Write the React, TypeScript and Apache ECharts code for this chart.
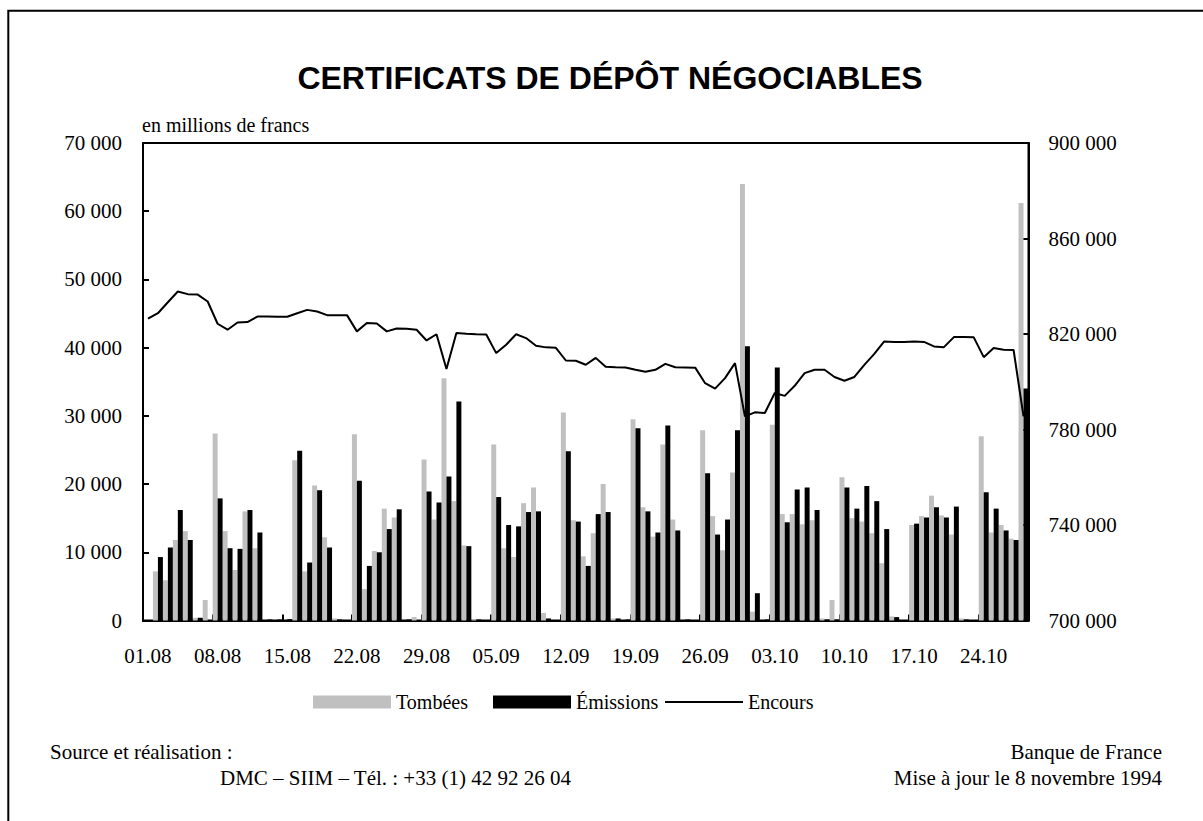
import React, { useEffect, useRef } from 'react';
import * as echarts from 'echarts';

const categories = [
  '01.08', '02.08', '03.08', '04.08', '05.08', '06.08', '07.08', '08.08', '09.08', '10.08',
  '11.08', '12.08', '13.08', '14.08', '15.08', '16.08', '17.08', '18.08', '19.08', '20.08',
  '21.08', '22.08', '23.08', '24.08', '25.08', '26.08', '27.08', '28.08', '29.08', '30.08', '31.08',
  '01.09', '02.09', '03.09', '04.09', '05.09', '06.09', '07.09', '08.09', '09.09', '10.09',
  '11.09', '12.09', '13.09', '14.09', '15.09', '16.09', '17.09', '18.09', '19.09', '20.09',
  '21.09', '22.09', '23.09', '24.09', '25.09', '26.09', '27.09', '28.09', '29.09', '30.09',
  '01.10', '02.10', '03.10', '04.10', '05.10', '06.10', '07.10', '08.10', '09.10', '10.10',
  '11.10', '12.10', '13.10', '14.10', '15.10', '16.10', '17.10', '18.10', '19.10', '20.10',
  '21.10', '22.10', '23.10', '24.10', '25.10', '26.10', '27.10', '28.10',
];

// Tombées (millions de francs)
const tombees = [
  0, 7200, 5900, 11800, 13100, 400, 3000, 27400, 13100, 7400,
  16000, 10600, 0, 0, 0, 23500, 7200, 19800, 12200, 300,
  0, 27300, 4600, 10200, 16400, 15100, 0, 500, 23600, 14800, 35500,
  17500, 11000, 200, 0, 25800, 10600, 9300, 17200, 19500, 1100,
  0, 30500, 14700, 9400, 12800, 20000, 300, 0, 29500, 16600,
  12300, 25800, 14800, 0, 0, 27900, 15300, 10300, 21700, 64000,
  1300, 0, 28700, 15600, 15600, 14100, 14700, 300, 3000, 21000,
  15000, 14500, 12800, 8400, 600, 0, 14000, 15300, 18300, 15400,
  12600, 300, 0, 27000, 12900, 14000, 12000, 61200,
];

// Émissions (millions de francs)
const emissions = [
  0, 9300, 10700, 16200, 11800, 400, 0, 17900, 10600, 10500,
  16200, 12900, 150, 150, 200, 24900, 8500, 19100, 10700, 150,
  0, 20500, 8000, 10000, 13400, 16300, 150, 0, 18900, 17300, 21100,
  32100, 10900, 150, 0, 18100, 14000, 13800, 15900, 16000, 300,
  0, 24800, 14500, 8000, 15600, 15900, 300, 150, 28200, 16000,
  12900, 28600, 13200, 150, 0, 21600, 12600, 14800, 27900, 40200,
  4000, 150, 37100, 14400, 19200, 19500, 16200, 150, 150, 19500,
  16400, 19700, 17500, 13400, 500, 0, 14200, 15100, 16600, 15100,
  16700, 150, 0, 18800, 16400, 13200, 11800, 34000,
];

// Encours (millions de francs, échelle de droite)
const encours = [
  826400, 828700, 833300, 837800, 836700, 836500, 833600, 824300, 821800, 824800,
  825000, 827300, 827300, 827200, 827200, 828700, 830100, 829400, 827900, 827900,
  827900, 821100, 824600, 824400, 821100, 822300, 822200, 821800, 817300, 819900, 805300,
  820400, 820100, 819900, 819800, 812000, 815500, 819900, 818300, 815100, 814400,
  814200, 808900, 808800, 807100, 810000, 806300, 806100, 806000, 805000, 804200,
  805000, 807500, 806100, 806000, 805900, 799400, 797100, 801500, 807800, 785500,
  787200, 786900, 795300, 794100, 798300, 803600, 805000, 805000, 802000, 800400,
  802000, 807100, 811700, 816900, 816700, 816700, 816900, 816700, 814800, 814500,
  818700, 818700, 818600, 810300, 814100, 813400, 813300, 785500,
];

const RIGHT_BASE = 700000;

const fmt = (v: number) => String(Math.round(v)).replace(/\B(?=(\d{3})+(?!\d))/g, ' ');

const SERIF = '"Liberation Serif", "Times New Roman", Times, serif';
const SANS = '"Liberation Sans", Arial, Helvetica, sans-serif';

export default function App() {
  const ref = useRef<HTMLDivElement>(null);

  useEffect(() => {
    if (!ref.current) return;
    const chart = echarts.init(ref.current, null, { renderer: 'svg' });
    const axisLineStyle = { color: '#000', width: 2 };
    const labelStyle = { fontFamily: SERIF, fontSize: 21, color: '#000' };
    const legendBase = {
      top: 692,
      padding: 0,
      itemWidth: 78,
      itemHeight: 13,
      selectedMode: false,
      textStyle: { fontFamily: SERIF, fontSize: 20, color: '#000' },
    };

    const text = (t: string, x: number, y: number, size: number, align: string, family = SERIF, weight = 'normal') => ({
      type: 'text',
      x,
      y,
      style: {
        text: t,
        font: `${weight} ${size}px ${family}`,
        fill: '#000',
        textAlign: align,
        align,
        textVerticalAlign: 'middle',
        verticalAlign: 'middle',
      },
    });

    chart.setOption({
      animation: false,
      backgroundColor: '#ffffff',
      grid: {
        left: 143,
        top: 143,
        width: 885.5,
        height: 477.5,
        show: true,
        borderColor: '#000',
        borderWidth: 2,
        backgroundColor: 'transparent',
        containLabel: false,
      },
      legend: [
        { ...legendBase, left: 313, data: [{ name: 'Tombées', icon: 'rect' }] },
        { ...legendBase, left: 493, data: [{ name: 'Émissions', icon: 'rect' }] },
        { ...legendBase, left: 665, itemHeight: 2, data: [{ name: 'Encours', icon: 'rect' }] },
      ],
      xAxis: {
        type: 'category',
        data: categories,
        boundaryGap: true,
        axisLine: { show: true, lineStyle: axisLineStyle },
        axisTick: { show: true, inside: true, length: 6, interval: 6, lineStyle: axisLineStyle },
        axisLabel: { ...labelStyle, interval: 6, margin: 25 },
        splitLine: { show: false },
      },
      yAxis: [
        {
          type: 'value',
          min: 0,
          max: 70000,
          interval: 10000,
          axisLine: { show: true, lineStyle: axisLineStyle },
          axisTick: { show: true, inside: true, length: 6, lineStyle: axisLineStyle },
          axisLabel: { ...labelStyle, margin: 21, formatter: (v: number) => fmt(v) },
          splitLine: { show: false },
        },
        {
          type: 'value',
          position: 'right',
          min: 0,
          max: 200000,
          interval: 40000,
          axisLine: { show: true, lineStyle: axisLineStyle },
          axisTick: { show: true, inside: true, length: 6, lineStyle: axisLineStyle },
          axisLabel: { ...labelStyle, margin: 20, formatter: (v: number) => fmt(v + RIGHT_BASE) },
          splitLine: { show: false },
        },
      ],
      series: [
        {
          name: 'Tombées',
          type: 'bar',
          data: tombees,
          itemStyle: { color: '#C0C0C0' },
          barGap: '0%',
          barCategoryGap: '0%',
        },
        {
          name: 'Émissions',
          type: 'bar',
          data: emissions,
          itemStyle: { color: '#000000' },
          barGap: '0%',
          barCategoryGap: '0%',
        },
        {
          name: 'Encours',
          type: 'line',
          yAxisIndex: 1,
          data: encours.map((v) => v - RIGHT_BASE),
          symbol: 'none',
          lineStyle: { color: '#000', width: 2 },
          itemStyle: { color: '#000' },
          z: 5,
        },
      ],
      graphic: [
        {
          type: 'rect',
          silent: true,
          shape: { x: 8.3, y: 10.8, width: 1400, height: 1000 },
          style: { fill: 'none', stroke: '#000', lineWidth: 2 },
        },
        text('CERTIFICATS DE DÉPÔT NÉGOCIABLES', 610, 78, 32, 'center', SANS, 'bold'),
        text('en millions de francs', 142, 125, 20, 'left'),
        text('Source et réalisation :', 50, 752, 21, 'left'),
        text('DMC – SIIM – Tél. : +33 (1) 42 92 26 04', 220, 778, 21, 'left'),
        text('Banque de France', 1162, 752, 21, 'right'),
        text('Mise à jour le 8 novembre 1994', 1162, 778, 21, 'right'),
      ],
    });

    return () => {
      chart.dispose();
    };
  }, []);

  return (
    <div
      ref={ref}
      style={{ position: 'absolute', left: 0, top: 0, width: 1203, height: 821, background: '#fff' }}
    />
  );
}
